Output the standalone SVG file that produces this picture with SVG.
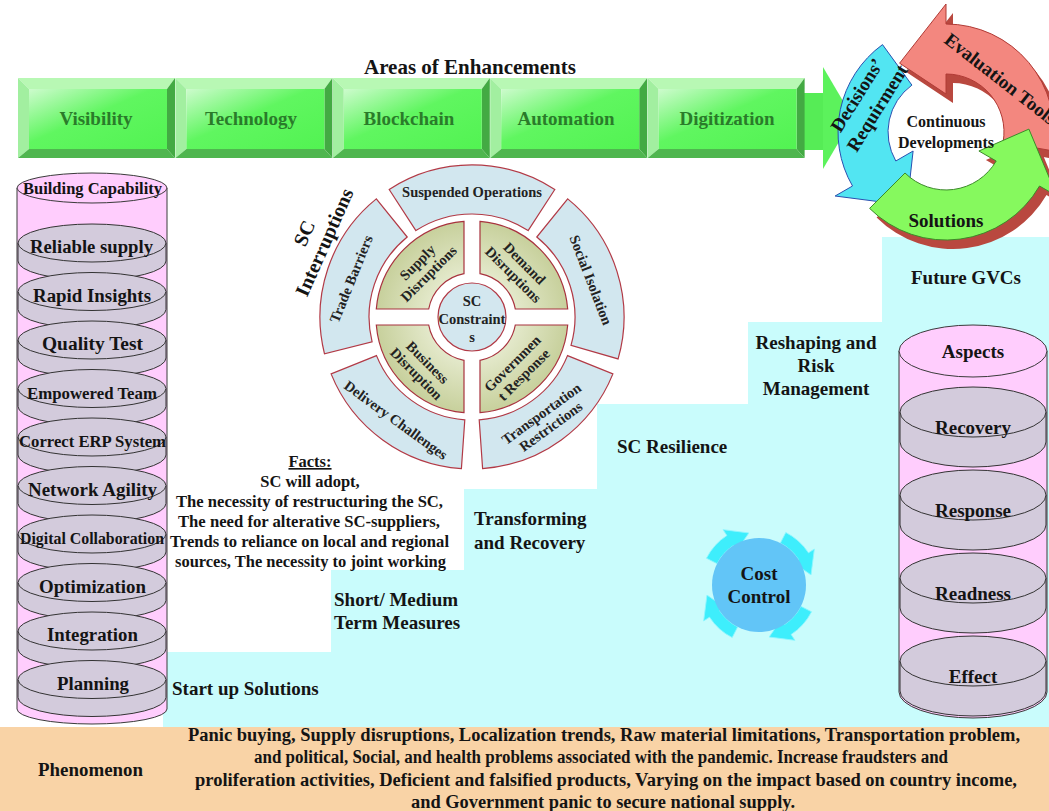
<svg xmlns="http://www.w3.org/2000/svg" width="1049" height="811" viewBox="0 0 1049 811">
<defs>
<style>
text{font-family:"Liberation Serif","Times New Roman",serif;font-weight:bold;fill:#141414}
.c{text-anchor:middle}
.bvt{fill:#b8f8b4}
.bvl{fill:#a2efa0}
.bvr{fill:#43aa43}
.bvb{fill:#4fb64f}
.gt{fill:#2a7b2a;font-size:19px;text-anchor:middle}
.pink{fill:#ffcdfd;stroke:#3a3a3a;stroke-width:1}
.disc{fill:#d3cbdc;stroke:#333;stroke-width:1}
.seg{fill:#d2e7ef;stroke:#b23a46;stroke-width:1.2}
.quad{fill:url(#quadG);stroke:#a8323e;stroke-width:1.2}
.wt{font-size:14.5px;text-anchor:middle;fill:#222}
.lab{font-size:19px}
.lc{font-size:18.5px}
.ft{font-size:16.5px}
.bt{font-size:18px}
</style>
<linearGradient id="faceG" x1="0" y1="0" x2="1" y2="1">
<stop offset="0" stop-color="#cdfbcd"/><stop offset="0.45" stop-color="#60f660"/><stop offset="1" stop-color="#52f352"/>
</linearGradient>
<radialGradient id="quadG" cx="472" cy="317" r="98" gradientUnits="userSpaceOnUse">
<stop offset="0.4" stop-color="#e6ebcf"/><stop offset="1" stop-color="#c6cf9a"/>
</radialGradient>
<g id="bevelBox">
<polygon class="bvt" points="0,0 157,0 149,11 11,11"/>
<polygon class="bvl" points="0,0 11,11 11,71 0,80"/>
<polygon class="bvr" points="157,0 157,80 149,71 149,11"/>
<polygon class="bvb" points="0,80 11,71 149,71 157,80"/>
<rect x="11" y="11" width="138" height="60" fill="url(#faceG)"/>
</g>
<g id="ldisc">
<path class="disc" d="M18 0 V18 A74 19 0 0 0 166 18 V0 Z"/>
<ellipse class="disc" cx="92" cy="0" rx="74" ry="19"/>
</g>
<g id="rdisc">
<path class="disc" d="M900 0 V30 A73 25 0 0 0 1046 30 V0 Z"/>
<ellipse class="disc" cx="973" cy="0" rx="73" ry="25"/>
</g>
<path id="ccA" d="M52.09 -27.7 A59 59 0 0 1 58.96 2.06 L65.96 2.3 L48.42 21.56 L40.97 1.43 L46.97 1.64 A47 47 0 0 0 41.5 -22.07 Z" fill="#3eeefc" stroke="#8ff6ff" stroke-width="0.8"/>
<path id="redArrow" d="M1052.4 150.8 A108 108 0 0 0 946 24 L946 4 L899.6 63.2 L946 94 L946 74 A58 58 0 0 1 1003.1 142.1 Z"/>
<path id="greenArrow" d="M869.6 208.4 A108 108 0 0 0 1039.5 186 L1056.9 196 L1028.9 129.1 L978.9 151 L996.2 161 A58 58 0 0 1 905 173 Z"/>
</defs>

<rect x="0" y="0" width="1049" height="811" fill="#ffffff"/>
<path id="staircase" d="M163 727 V652 H331 V570 H464 V489 H597 V404 H748 V322 H882 V237 H1049 V727 Z" fill="#c9fcfc"/>

<g id="phenomenon-bar">
<rect x="0" y="727" width="1049" height="84" fill="#f9d3a6"/>
<text class="bt" x="38" y="776" textLength="105" lengthAdjust="spacingAndGlyphs">Phenomenon</text>
<text class="bt" x="188" y="741" textLength="832" lengthAdjust="spacingAndGlyphs">Panic buying, Supply disruptions, Localization trends, Raw material limitations, Transportation problem,</text>
<text class="bt" x="254" y="763" textLength="694" lengthAdjust="spacingAndGlyphs">and political, Social, and health problems associated with the pandemic. Increase fraudsters and</text>
<text class="bt" x="195" y="786" textLength="822" lengthAdjust="spacingAndGlyphs">proliferation activities, Deficient and falsified products, Varying on the impact based on country income,</text>
<text class="bt" x="411" y="808" textLength="384" lengthAdjust="spacingAndGlyphs">and Government panic to secure national supply.</text>
</g>

<text id="title-areas" class="c" x="470" y="74" font-size="21">Areas of Enhancements</text>

<g id="connectors">
<rect x="804" y="93" width="21" height="57" fill="#56ec56"/>
<polygon points="823,67 853,118 823,169" fill="#5cf25c"/>
</g>

<g id="node-visibility"><use href="#bevelBox" transform="translate(18 78)"/><text class="gt" x="96" y="125">Visibility</text></g>
<g id="node-technology"><use href="#bevelBox" transform="translate(175.4 78)"/><text class="gt" x="251" y="125">Technology</text></g>
<g id="node-blockchain"><use href="#bevelBox" transform="translate(332.8 78)"/><text class="gt" x="409" y="125">Blockchain</text></g>
<g id="node-automation"><use href="#bevelBox" transform="translate(490.2 78)"/><text class="gt" x="566" y="125">Automation</text></g>
<g id="node-digitization"><use href="#bevelBox" transform="translate(647.6 78)"/><text class="gt" x="727" y="125">Digitization</text></g>

<g id="cycle">
<use href="#redArrow" transform="translate(7 9)" fill="#b9483f"/>
<use href="#greenArrow" transform="translate(7 9)" fill="#b9483f"/>
<use href="#redArrow" fill="#f3877f" stroke="#b03a35" stroke-width="1"/>
<path id="blueArrow" d="M882.5 44.6 A108 108 0 0 0 852.5 186 L835.1 196 L907 205.3 L913.1 151 L895.8 161 A58 58 0 0 1 911.9 85.1 Z" fill="#52e5f2" stroke="#2a4fb0" stroke-width="1"/>
<use href="#greenArrow" fill="#86f95e" stroke="#3c8a2a" stroke-width="1"/>
<g transform="translate(867 101.5) rotate(-58)">
<text class="c lab" x="0" y="-5.5">Decisions’</text>
<text class="c lab" x="0" y="18.5">Requirment</text>
</g>
<text class="lab" transform="translate(943 42) rotate(38)" x="0" y="0">Evaluation Tools</text>
<text class="c lab" x="946" y="227">Solutions</text>
<text class="c" font-size="16" x="946" y="127">Continuous</text>
<text class="c" font-size="16" x="946" y="148">Developments</text>
</g>

<g id="left-cylinder">
<path class="pink" d="M17 188 V709 A75 15 0 0 0 167 709 V188 Z"/>
<ellipse class="pink" cx="92" cy="188" rx="75" ry="15"/>
<text font-size="16.5" x="23" y="194" textLength="139" lengthAdjust="spacingAndGlyphs">Building Capability</text>
</g>
<g id="cap-reliable"><use href="#ldisc" y="243"/><text class="lc" x="30" y="253" textLength="123" lengthAdjust="spacingAndGlyphs">Reliable supply</text></g>
<g id="cap-rapid"><use href="#ldisc" y="291.5"/><text class="lc" x="33" y="301.5" textLength="118" lengthAdjust="spacingAndGlyphs">Rapid Insights</text></g>
<g id="cap-quality"><use href="#ldisc" y="340"/><text class="lc" x="42" y="350" textLength="101" lengthAdjust="spacingAndGlyphs">Quality Test</text></g>
<g id="cap-empowered"><use href="#ldisc" y="388.5"/><text font-size="16.5" x="27" y="398.5" textLength="130" lengthAdjust="spacingAndGlyphs">Empowered Team</text></g>
<g id="cap-erp"><use href="#ldisc" y="437"/><text font-size="16.5" x="19" y="447" textLength="147" lengthAdjust="spacingAndGlyphs">Correct ERP System</text></g>
<g id="cap-network"><use href="#ldisc" y="485.5"/><text class="lc" x="28" y="495.5" textLength="129" lengthAdjust="spacingAndGlyphs">Network Agility</text></g>
<g id="cap-digital"><use href="#ldisc" y="534"/><text font-size="16" x="20" y="544" textLength="144" lengthAdjust="spacingAndGlyphs">Digital Collaboration</text></g>
<g id="cap-optimization"><use href="#ldisc" y="582.5"/><text class="lc" x="39" y="592.5" textLength="107" lengthAdjust="spacingAndGlyphs">Optimization</text></g>
<g id="cap-integration"><use href="#ldisc" y="631"/><text class="lc" x="47" y="641" textLength="91" lengthAdjust="spacingAndGlyphs">Integration</text></g>
<g id="cap-planning"><use href="#ldisc" y="679.5"/><text class="lc" x="57" y="689.5" textLength="72" lengthAdjust="spacingAndGlyphs">Planning</text></g>

<g id="wheel-suspended"><path class="seg" d="M389.2 189.5 A152 152 0 0 1 554.8 189.5 L528.1 230.6 A103 103 0 0 0 415.9 230.6 Z"/><text class="wt" x="472" y="197">Suspended Operations</text></g>
<g id="wheel-social"><path class="seg" d="M567.7 198.9 A152 152 0 0 1 618.1 358.9 L571 345.4 A103 103 0 0 0 536.8 237 Z"/><text class="wt" transform="translate(591 280) rotate(69)" x="0" y="5">Social Isolation</text></g>
<g id="wheel-transport"><path class="seg" d="M612.9 373.9 A152 152 0 0 1 482.6 468.6 L479.2 419.8 A103 103 0 0 0 567.5 355.6 Z"/>
<g transform="translate(546 420) rotate(-36)"><text class="wt" x="0" y="-3">Transportation</text><text class="wt" x="0" y="13">Restrictions</text></g></g>
<g id="wheel-delivery"><path class="seg" d="M461.4 468.6 A152 152 0 0 1 331.1 373.9 L376.5 355.6 A103 103 0 0 0 464.8 419.8 Z"/><text class="wt" transform="translate(396 420) rotate(36)" x="0" y="5">Delivery Challenges</text></g>
<g id="wheel-trade"><path class="seg" d="M324.5 353.8 A152 152 0 0 1 376.3 198.9 L407.2 237 A103 103 0 0 0 372.1 341.9 Z"/><text class="wt" transform="translate(351 279) rotate(-68)" x="0" y="5">Trade Barriers</text></g>

<g id="quad-supply"><path class="quad" d="M376.3 309 A96 96 0 0 1 464 221.3 L464 273.7 A44 44 0 0 0 428.7 309 Z"/>
<g transform="translate(423 268) rotate(-45)"><text class="wt" font-size="14" x="0" y="-3">Supply</text><text class="wt" font-size="14" x="0" y="13">Disruptions</text></g></g>
<g id="quad-demand"><path class="quad" d="M480 221.3 A96 96 0 0 1 567.7 309 L515.3 309 A44 44 0 0 0 480 273.7 Z"/>
<g transform="translate(519 269) rotate(45)"><text class="wt" font-size="14" x="0" y="-3">Demand</text><text class="wt" font-size="14" x="0" y="13">Disruptions</text></g></g>
<g id="quad-government"><path class="quad" d="M567.7 325 A96 96 0 0 1 480 412.7 L480 360.3 A44 44 0 0 0 515.3 325 Z"/>
<g transform="translate(518 369) rotate(-45)"><text class="wt" font-size="14" x="0" y="-3">Governmen</text><text class="wt" font-size="14" x="0" y="13">t Response</text></g></g>
<g id="quad-business"><path class="quad" d="M464 412.7 A96 96 0 0 1 376.3 325 L428.7 325 A44 44 0 0 0 464 360.3 Z"/>
<g transform="translate(422 368) rotate(45)"><text class="wt" font-size="14" x="0" y="-3">Business</text><text class="wt" font-size="14" x="0" y="13">Disruption</text></g></g>
<g id="sc-constraints"><circle cx="472" cy="317" r="34" fill="#d3e7ef" stroke="#b23a46" stroke-width="1.2"/>
<text class="wt" x="472" y="306">SC</text><text class="wt" x="472" y="324">Constraint</text><text class="wt" x="472" y="342">s</text></g>

<g id="sc-interruptions" transform="translate(315 238) rotate(-66)">
<text class="c" font-size="20" x="0" y="-5">SC</text>
<text class="c" font-size="20" x="0" y="17">Interruptions</text>
</g>

<g id="facts">
<text class="c ft" x="310" y="467" text-decoration="underline">Facts:</text>
<text class="c ft" x="310" y="487">SC will adopt,</text>
<text class="ft" x="176" y="507" textLength="267" lengthAdjust="spacingAndGlyphs">The necessity of restructuring the SC,</text>
<text class="ft" x="178" y="527" textLength="262" lengthAdjust="spacingAndGlyphs">The need for alterative SC-suppliers,</text>
<text class="ft" x="170" y="547" textLength="279" lengthAdjust="spacingAndGlyphs">Trends to reliance on local and regional</text>
<text class="ft" x="175" y="567" textLength="271" lengthAdjust="spacingAndGlyphs">sources, The necessity to joint working</text>
</g>

<g id="step-startup"><text class="lab" x="172" y="695">Start up Solutions</text></g>
<g id="step-short"><text class="lab" x="334" y="606">Short/ Medium</text><text class="lab" x="334" y="629">Term Measures</text></g>
<g id="step-transforming"><text class="lab" x="474" y="525">Transforming</text><text class="lab" x="474" y="549">and Recovery</text></g>
<g id="step-resilience"><text class="lab" x="617" y="453">SC Resilience</text></g>
<g id="step-reshaping"><text class="c lab" x="816" y="349">Reshaping and</text><text class="c lab" x="816" y="372">Risk</text><text class="c lab" x="816" y="395">Management</text></g>
<g id="step-future"><text class="c lab" x="966" y="284">Future GVCs</text></g>

<g id="cost-control">
<g transform="translate(759 585)">
<use href="#ccA" transform="rotate(-125)"/>
<use href="#ccA" transform="rotate(-35)"/>
<use href="#ccA" transform="rotate(55)"/>
<use href="#ccA" transform="rotate(145)"/>
</g>
<circle cx="759" cy="585" r="47" fill="#62c5f7"/>
<text class="c lab" x="759" y="580">Cost</text>
<text class="c lab" x="759" y="603">Control</text>
</g>

<g id="right-cylinder">
<path class="pink" d="M899 351 V692 A74 26 0 0 0 1047 692 V351 Z"/>
<ellipse class="pink" cx="973" cy="351" rx="74" ry="26"/>
<text class="c lab" x="973" y="358">Aspects</text>
</g>
<g id="aspect-recovery"><use href="#rdisc" y="412"/><text class="c lab" x="973" y="434">Recovery</text></g>
<g id="aspect-response"><use href="#rdisc" y="495"/><text class="c lab" x="973" y="517">Response</text></g>
<g id="aspect-readness"><use href="#rdisc" y="578"/><text class="c lab" x="973" y="600">Readness</text></g>
<g id="aspect-effect"><use href="#rdisc" y="661"/><text class="c lab" x="973" y="683">Effect</text></g>
</svg>
